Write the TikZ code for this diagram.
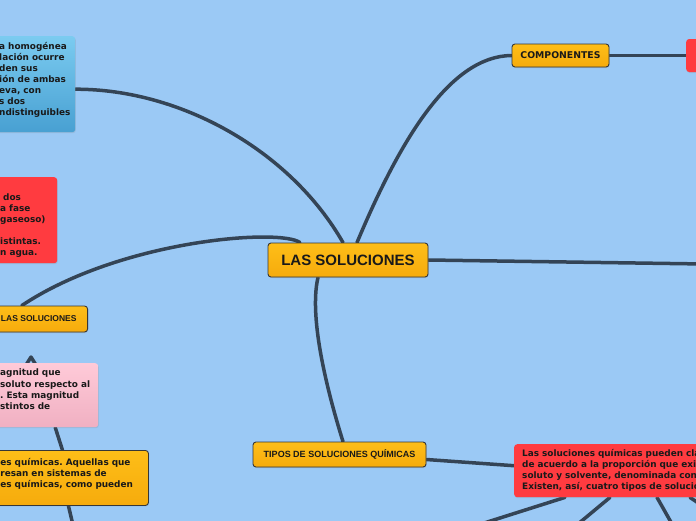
\documentclass[tikz,border=0pt]{standalone}
\usepackage{fontspec}
\setmainfont{DejaVu Sans}
\newfontfamily\arialfont{Liberation Sans}
\usetikzlibrary{positioning}
\usetikzlibrary{backgrounds}
\usetikzlibrary{shadows}
\frenchspacing
\definecolor{skyblue}{RGB}{155,201,245}
\definecolor{orangebox}{RGB}{254,190,24}
\definecolor{orangedark}{RGB}{246,171,12}
\definecolor{redbox}{RGB}{255,59,64}
\definecolor{pinkbox}{RGB}{255,202,216}
\definecolor{pinkdark}{RGB}{240,176,194}
\definecolor{bluetop}{RGB}{123,203,240}
\definecolor{bluebot}{RGB}{72,160,210}
\definecolor{linec}{RGB}{52,68,86}
\definecolor{borderc}{RGB}{55,55,55}
\definecolor{textc}{RGB}{25,25,25}

\begin{document}
\begin{tikzpicture}[
    x=1pt, y=-1pt,
    topic/.style={rectangle, draw=borderc, line width=0.9pt, rounded corners=3pt,
                  top color=orangebox, bottom color=orangedark, text=textc, inner sep=0pt,
                  drop shadow={opacity=0.25, shadow xshift=0.6pt, shadow yshift=-1pt}},
    note/.style={rectangle, rounded corners=3pt, align=left, anchor=north west,
                 inner xsep=8pt, inner ysep=3pt, text=textc,
                 font=\bfseries\fontsize{8.9}{11}\selectfont,
                 drop shadow={opacity=0.2, shadow xshift=0.6pt, shadow yshift=-1pt}},
    conn/.style={draw=linec, line width=3.5pt, line cap=round}
]
    \useasboundingbox (0,0) rectangle (696,520);
    \clip (0,0) rectangle (696,520);

    % main topics
    \node[topic, minimum width=160pt, minimum height=34pt,
          font=\arialfont\bfseries\fontsize{15}{18}\selectfont] (sol) at (348,260) {LAS SOLUCIONES};
    \node[topic, minimum width=97pt, minimum height=23pt,
          font=\bfseries\fontsize{9.3}{11}\selectfont] (comp) at (560.5,55.5) {COMPONENTES};
    \node[topic, minimum width=173pt, minimum height=25pt,
          font=\arialfont\bfseries\fontsize{9}{11}\selectfont] (tipos) at (339.5,454.5) {TIPOS DE SOLUCIONES QUÍMICAS};
    \node[topic, anchor=east, inner xsep=11pt, minimum height=26pt,
          font=\arialfont\bfseries\fontsize{8.5}{10}\selectfont] (lasizq) at (88,319) {LAS SOLUCIONES};

    % text boxes
    \node[note, top color=bluetop, bottom color=bluebot, inner xsep=4pt, text width=72pt, minimum height=96pt] (mezcla) at (-5,36)
        {a homogénea\\ lación ocurre\\ den sus\\ ión de ambas\\ eva, con\\ s dos\\ ndistinguibles\\ \mbox{}};
    \node[note, fill=redbox, text width=49pt, minimum height=86pt] (fases) at (-8,177)
        {\rule{0pt}{7pt}\\ \hspace*{3pt}dos\\ a fase\\ gaseoso)\\ \mbox{}\\ istintas.\\ n agua.};
    \node[note, top color=pinkbox, bottom color=pinkdark, text width=90pt, minimum height=64pt,
          font=\bfseries\fontsize{8.9}{11.3}\selectfont] (conc) at (-8,363)
        {agnitud que\\ soluto respecto al\\ . Esta magnitud\\ stintos de\\ \mbox{}};
    \node[note, top color=orangebox, bottom color=orangedark, draw=borderc, line width=0.9pt,
          text width=140pt, minimum height=55pt] (quim) at (-8,450)
        {es químicas. Aquellas que\\ resan en sistemas de\\ es químicas, como pueden\\ \mbox{}};
    \node[note, fill=redbox, text width=250pt, minimum height=53pt] (clasif) at (514,444)
        {Las soluciones químicas pueden clasificarse\\ de acuerdo a la proporción que existe\\
         soluto y solvente, denominada concentración\\ Existen, así, cuatro tipos de soluciones};
    \node[note, fill=redbox, anchor=west, minimum width=40pt, minimum height=33pt] (comp1) at (686,55.5) {};

    % free ends
    \coordinate (rgt) at (705,264);
    \coordinate (c1) at (481,524);
    \coordinate (c2) at (578,524);
    \coordinate (c3) at (672,524);
    \coordinate (c4) at (710,511);
    \coordinate (q1) at (73,525);
    \coordinate (hk) at (31,357);

    \begin{scope}[on background layer]
        \fill[skyblue] (-20,-20) rectangle (716,540);
        \draw[conn] ([xshift=9pt]sol.north) .. controls (400,140) and (450,56) .. (comp.west);
        \draw[conn] (comp.east) -- (comp1.west);
        \draw[conn] ([xshift=-5pt]sol.north) .. controls (290,150) and (180,89) .. ([yshift=-5pt]mezcla.east);
        \draw[conn] ([xshift=-48pt]sol.north) .. controls (280,228) and (120,240) .. ([xshift=-17pt]lasizq.north);
        \draw[conn] (sol.east) -- (rgt);
        \draw[conn] ([xshift=-30pt]sol.south) .. controls (308,320) and (330,400) .. ([xshift=3.5pt]tipos.north);
        \draw[conn] ([yshift=-5pt]tipos.east) -- ([yshift=5pt]clasif.west);
        \draw[conn] ([xshift=51pt]clasif.south west) -- (c1);
        \draw[conn] ([xshift=96pt]clasif.south west) -- (c2);
        \draw[conn] ([xshift=143pt]clasif.south west) -- (c3);
        \draw[conn] ([xshift=176pt]clasif.south west) -- (c4);
        \draw[conn] ([xshift=10pt]conc.south) -- ([xshift=-8pt]quim.north);
        \draw[conn] ([xshift=-2pt]quim.south) -- (q1);
        \draw[conn, line join=round] ([shift={(-5pt,-8pt)}]hk) -- (hk) -- ([shift={(5pt,-8pt)}]hk);
    \end{scope}
\end{tikzpicture}
\end{document}
